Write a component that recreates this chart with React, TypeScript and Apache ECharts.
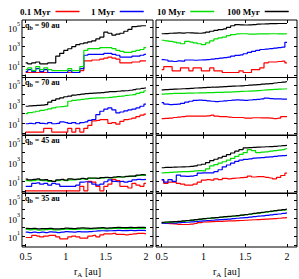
import React, { useEffect, useRef } from "react";
import * as echarts from "echarts";

const rA = [0.5, 0.55, 0.6, 0.65, 0.7, 0.75, 0.8, 0.85, 0.9, 0.95, 1.0, 1.05, 1.1, 1.15, 1.2, 1.25, 1.3, 1.35, 1.4, 1.45, 1.5, 1.55, 1.6, 1.65, 1.7, 1.75, 1.8, 1.85, 1.9, 1.95, 2.0];
const ages = ["0.1 Myr", "1 Myr", "10 Myr", "100 Myr"];
const ageColors = ["#ff0000", "#0000ff", "#00e000", "#000000"];
const panelLabels = ["90", "70", "45", "35"];
const xTicks = [0.5, 1, 1.5, 2];
const yTicks = [1, 10, 100, 1000, 10000, 100000];
const yLabels = [10, 1000, 100000];

// q_b = 90 au, left
const q90L_red = [2, 2, 2, 2, 2, 2, 2, 2, 2, 2, 2, 2, 2, 2, 3.2, 32, 32, 40, 40, 50, 63, 80, 63, 50, 20, 20, 20, 25, 25, 32, 32];
const q90L_blue = [2.5, 4, 2.5, 5, 2.5, 4, 2, 2, 2, 2, 2, 3.2, 2, 2, 5, 126, 158, 158, 158, 158, 200, 200, 158, 126, 80, 80, 80, 100, 100, 126, 158];
const q90L_green = [4, 6, 3.2, 8, 4, 6, 4, 3.2, 3.2, 3.2, 3.2, 5, 3.2, 3.2, 8, 400, 630, 630, 630, 800, 800, 800, 630, 400, 320, 250, 250, 320, 400, 500, 800];
const q90L_black = [20, 16, 20, 25, 16, 16, 20, 20, 100, 200, 400, 600, 1000, 1600, 2000, 2500, 3200, 4000, 6300, 10000, 32000, 25000, 16000, 20000, 25000, 40000, 63000, 120000, 140000, 150000, 150000];
// q_b = 90 au, right
const q90R_red = [4, 8, 8, 3, 3, 6, 6, 3, 6, 6, 3, 3, 6, 3, 3, 2, 2, 2, 2, 3, 2, 2, 4, 4, 6, 20, 25, 25, 28, 30, 20];
const q90R_blue = [45, 40, 30, 28, 32, 30, 40, 40, 38, 40, 42, 45, 50, 55, 63, 70, 80, 100, 120, 140, 180, 250, 320, 400, 500, 560, 630, 700, 800, 900, 2800];
const q90R_green = [4600, 4000, 3500, 3000, 2500, 2000, 3500, 3000, 2500, 2000, 1600, 2500, 4000, 6300, 8000, 10000, 14000, 18000, 21000, 22000, 22000, 20000, 20000, 21000, 21000, 21000, 22000, 22000, 21000, 21000, 22000];
const q90R_black = [22000, 23000, 25000, 26000, 27000, 26000, 28000, 27000, 26000, 25000, 27000, 32000, 40000, 50000, 60000, 70000, 100000, 150000, 200000, 190000, 180000, 190000, 200000, 220000, 230000, 240000, 250000, 250000, 260000, 260000, 260000];
// q_b = 70 au, left
const q70L_red = [1.2, 1.2, 1.2, 1.2, 1.2, 3, 3, 1.2, 1.2, 1.2, 1.2, 3, 1.2, 3, 1.2, 3, 6, 18, 20, 24, 24, 10, 12, 8, 16, 24, 28, 35, 50, 70, 90];
const q70L_blue = [9, 10, 9, 12, 10, 9, 12, 9, 10, 14, 12, 10, 12, 9, 12, 14, 20, 25, 80, 180, 300, 400, 250, 120, 150, 200, 250, 300, 400, 600, 1000];
const q70L_green = [100, 130, 150, 180, 220, 260, 320, 400, 500, 560, 630, 2000, 2500, 2800, 3200, 3600, 4000, 4200, 4400, 4500, 4600, 5000, 5600, 6300, 7000, 8000, 9000, 10000, 13000, 17000, 25000];
const q70L_black = [600, 650, 700, 750, 800, 900, 1600, 2500, 3500, 4500, 5900, 7000, 8500, 10000, 11000, 12600, 13000, 14000, 15000, 16000, 18000, 20000, 20000, 22000, 24000, 25000, 28000, 32000, 38000, 45000, 50000];
// q_b = 70 au, right
const q70R_red = [30, 32, 35, 40, 45, 50, 55, 55, 55, 55, 55, 60, 70, 55, 50, 50, 45, 40, 40, 40, 35, 35, 38, 38, 36, 36, 35, 30, 35, 50, 50];
const q70R_blue = [1400, 1000, 900, 950, 1000, 1200, 1600, 2000, 2500, 2600, 2500, 2200, 2000, 1800, 2000, 2200, 2400, 2600, 2800, 2600, 2500, 2700, 3000, 3200, 3500, 4200, 3800, 3600, 3500, 3400, 3400];
const q70R_green = [11000, 12000, 12500, 13000, 13000, 13500, 14000, 14000, 14500, 15000, 15000, 15500, 16000, 16500, 17000, 17500, 18000, 19000, 20000, 21000, 22000, 23000, 24000, 26000, 28000, 30000, 32000, 34000, 36000, 38000, 40000];
const q70R_black = [30000, 32000, 34000, 36000, 38000, 40000, 42000, 45000, 48000, 50000, 52000, 55000, 58000, 60000, 63000, 66000, 70000, 74000, 78000, 82000, 88000, 95000, 100000, 110000, 120000, 130000, 140000, 160000, 180000, 200000, 230000];
// q_b = 45 au, left
const q45L_red = [1, 1, 1, 1, 1, 1, 1, 1, 1, 1, 1, 1, 1, 1, 3, 1, 10, 8, 3, 1, 3, 5, 16, 12, 3, 3, 2, 6, 4, 3, 6];
const q45L_blue = [3, 3, 6, 7, 5, 6, 4, 6, 5, 3, 3, 3, 3, 4, 8, 9, 8, 5, 4, 5, 9, 14, 10, 9, 10, 8, 10, 14, 16, 15, 16];
const q45L_green = [12, 11, 12, 14, 12, 12, 10, 10, 12, 14, 12, 14, 14, 16, 18, 16, 20, 20, 20, 22, 24, 22, 26, 28, 28, 30, 32, 35, 40, 42, 40];
const q45L_black = [17, 14, 16, 18, 14, 15, 12, 10, 14, 16, 13, 18, 16, 17, 20, 18, 22, 22, 20, 24, 26, 24, 28, 30, 28, 32, 35, 35, 45, 50, 45];
// q_b = 45 au, right
const q45R_red = [13, 6, 8, 8, 6, 5, 4, 4, 5, 8, 13, 15, 13, 18, 15, 20, 18, 20, 22, 24, 26, 34, 28, 30, 30, 26, 22, 18, 26, 40, 70];
const q45R_blue = [15, 8, 15, 10, 45, 35, 32, 35, 40, 70, 76, 76, 76, 100, 160, 320, 500, 800, 1200, 1600, 1900, 2200, 2600, 2800, 3000, 3300, 3600, 4000, 4400, 4800, 5000];
const q45R_green = [76, 80, 85, 90, 95, 100, 100, 110, 120, 130, 125, 200, 400, 560, 800, 1100, 1600, 2500, 4000, 6300, 10000, 20000, 16000, 10000, 11000, 12000, 14000, 16000, 18000, 20000, 25000];
const q45R_black = [260, 280, 290, 300, 310, 320, 330, 360, 400, 500, 600, 900, 1400, 2000, 2800, 4000, 6000, 9000, 14000, 20000, 30000, 32000, 34000, 36000, 38000, 40000, 42000, 45000, 48000, 52000, 55000];
// q_b = 35 au, left
const q35L_red = [7, 7, 12, 10, 8, 10, 12, 12, 8, 5, 5, 8, 10, 8, 6, 6, 10, 12, 8, 14, 18, 18, 20, 16, 16, 14, 16, 18, 20, 20, 18];
const q35L_blue = [28, 25, 28, 24, 28, 25, 30, 28, 25, 28, 32, 30, 28, 32, 30, 30, 32, 35, 38, 40, 38, 40, 42, 45, 42, 42, 45, 42, 45, 45, 42];
const q35L_green = [55, 50, 55, 48, 50, 52, 55, 50, 50, 55, 60, 58, 55, 60, 65, 62, 60, 65, 70, 70, 65, 70, 72, 75, 72, 70, 75, 72, 75, 75, 72];
const q35L_black = [75, 70, 75, 65, 70, 70, 75, 65, 65, 70, 80, 75, 70, 80, 85, 80, 75, 80, 85, 90, 80, 85, 90, 95, 90, 90, 95, 90, 95, 95, 90];
// q_b = 35 au, right
const q35R_red = [270, 260, 250, 230, 210, 200, 200, 220, 260, 320, 380, 400, 420, 440, 460, 480, 500, 520, 540, 560, 600, 640, 680, 720, 760, 800, 860, 920, 1000, 1100, 1200];
const q35R_blue = [270, 280, 300, 290, 320, 340, 360, 400, 430, 470, 520, 560, 600, 650, 700, 760, 820, 900, 1000, 1100, 1200, 1350, 1500, 1700, 1900, 2100, 2400, 2700, 3000, 3500, 4000];
const q35R_green = [330, 350, 370, 400, 420, 460, 520, 580, 650, 750, 850, 950, 1050, 1150, 1300, 1400, 1550, 1700, 1900, 2200, 2500, 2800, 3200, 3700, 4300, 5000, 5700, 6500, 7400, 8300, 9000];
const q35R_black = [350, 380, 400, 420, 450, 500, 560, 620, 700, 800, 900, 1000, 1100, 1200, 1350, 1500, 1650, 1800, 2000, 2300, 2600, 3000, 3500, 4000, 4700, 5400, 6200, 7200, 8200, 9500, 11000];

const panels = [
  [q90L_red, q90L_blue, q90L_green, q90L_black],
  [q90R_red, q90R_blue, q90R_green, q90R_black],
  [q70L_red, q70L_blue, q70L_green, q70L_black],
  [q70R_red, q70R_blue, q70R_green, q70R_black],
  [q45L_red, q45L_blue, q45L_green, q45L_black],
  [q45R_red, q45R_blue, q45R_green, q45R_black],
  [q35L_red, q35L_blue, q35L_green, q35L_black],
  [q35R_red, q35R_blue, q35R_green, q35R_black],
];

const FONT = "Liberation Serif";
const rowTops = [20, 77.5, 135.5, 193.5];
const rowH = 57.5;
const colLeft = [22, 156];
const colW = [131, 141];
const xMin = [0.454, 0.432];
const xMax = [2.088, 2.12];
const legendLeft = [20, 91, 157, 227];

export default function App() {
  const ref = useRef<HTMLDivElement>(null);
  useEffect(() => {
    if (!ref.current) return;
    const chart = echarts.init(ref.current, null, { renderer: "svg" });
    const grids: any[] = [];
    const xAxes: any[] = [];
    const yAxes: any[] = [];
    const series: any[] = [];
    const graphics: any[] = [];
    const tickStyle = { show: true, inside: true, length: 3, lineStyle: { color: "#000", width: 1 } };
    for (let p = 0; p < 8; p++) {
      const row = Math.floor(p / 2);
      const col = p % 2;
      grids.push({
        left: colLeft[col],
        top: rowTops[row],
        width: colW[col],
        height: rowH,
        show: true,
        borderColor: "#000",
        borderWidth: 1,
        backgroundColor: "transparent",
      });
    }
    const makeX = (p: number, pos: string) => {
      const row = Math.floor(p / 2);
      const col = p % 2;
      const bottomRow = row === 3 && pos === "bottom";
      return {
        type: "value",
        gridIndex: p,
        position: pos,
        min: xMin[col],
        max: xMax[col],
        axisLine: { show: false },
        splitLine: { show: false },
        axisTick: { ...tickStyle, customValues: xTicks },
        axisLabel: {
          show: bottomRow,
          customValues: xTicks,
          fontFamily: FONT,
          fontSize: 10,
          color: "#000",
          margin: 4,
        },
        name: bottomRow ? "r{s|A} [au]" : "",
        nameLocation: "middle",
        nameGap: 17,
        nameTextStyle: {
          fontFamily: FONT,
          fontSize: 10,
          color: "#000",
          rich: { s: { fontFamily: FONT, fontSize: 7, color: "#000", verticalAlign: "bottom", lineHeight: 14 } },
        },
      };
    };
    const makeY = (p: number, pos: string) => {
      const col = p % 2;
      const showLab = col === 0 && pos === "left";
      return {
        type: "log",
        logBase: 10,
        gridIndex: p,
        position: pos,
        min: 0.6,
        max: 600000,
        axisLine: { show: false },
        splitLine: { show: false },
        minorTick: { show: false },
        axisTick: { ...tickStyle, customValues: yTicks },
        axisLabel: {
          show: showLab,
          customValues: yLabels,
          margin: 2,
          formatter: (v: number) => `{b|10}{s|${Math.round(Math.log10(v))}}`,
          rich: {
            b: { fontFamily: FONT, fontSize: 9, color: "#000", lineHeight: 12, verticalAlign: "bottom" },
            s: { fontFamily: FONT, fontSize: 6, color: "#000", lineHeight: 12, verticalAlign: "top" },
          },
        },
      };
    };
    for (let p = 0; p < 8; p++) xAxes.push(makeX(p, "bottom"));
    for (let p = 0; p < 8; p++) xAxes.push(makeX(p, "top"));
    for (let p = 0; p < 8; p++) yAxes.push(makeY(p, "left"));
    for (let p = 0; p < 8; p++) yAxes.push(makeY(p, "right"));

    for (let p = 0; p < 8; p++) {
      for (let k = 0; k < 4; k++) {
        series.push({
          type: "line",
          name: ages[k],
          xAxisIndex: p,
          yAxisIndex: p,
          step: "middle",
          symbol: "none",
          data: rA.map((x, j) => [x, panels[p][k][j]]),
          lineStyle: { color: ageColors[k], width: 1.2 },
          itemStyle: { color: ageColors[k] },
          z: 2 + k,
        });
      }
    }
    for (let row = 0; row < 4; row++) {
      graphics.push({
        type: "text",
        left: 25,
        top: rowTops[row] + 1,
        style: {
          text: `q{s|b} = ${panelLabels[row]} au`,
          fontFamily: FONT,
          fontWeight: "bold",
          fontSize: 8,
          fill: "#000",
          rich: {
            s: { fontFamily: FONT, fontWeight: "bold", fontSize: 6, fill: "#000", verticalAlign: "bottom", lineHeight: 11 },
          },
        },
      });
    }
    const legends = ages.map((a, k) => ({
      data: [{ name: a, icon: "rect" }],
      left: legendLeft[k],
      top: 7,
      align: "right",
      itemWidth: 24,
      itemHeight: 1.5,
      padding: 0,
      textStyle: { fontFamily: FONT, fontWeight: "bold", fontSize: 9, color: "#000" },
    }));

    chart.setOption({
      animation: false,
      backgroundColor: "#fff",
      grid: grids,
      xAxis: xAxes,
      yAxis: yAxes,
      series,
      legend: legends,
      graphic: graphics,
    });
    return () => chart.dispose();
  }, []);
  return <div ref={ref} style={{ position: "fixed", left: 0, top: 0, width: 299, height: 279 }} />;
}
